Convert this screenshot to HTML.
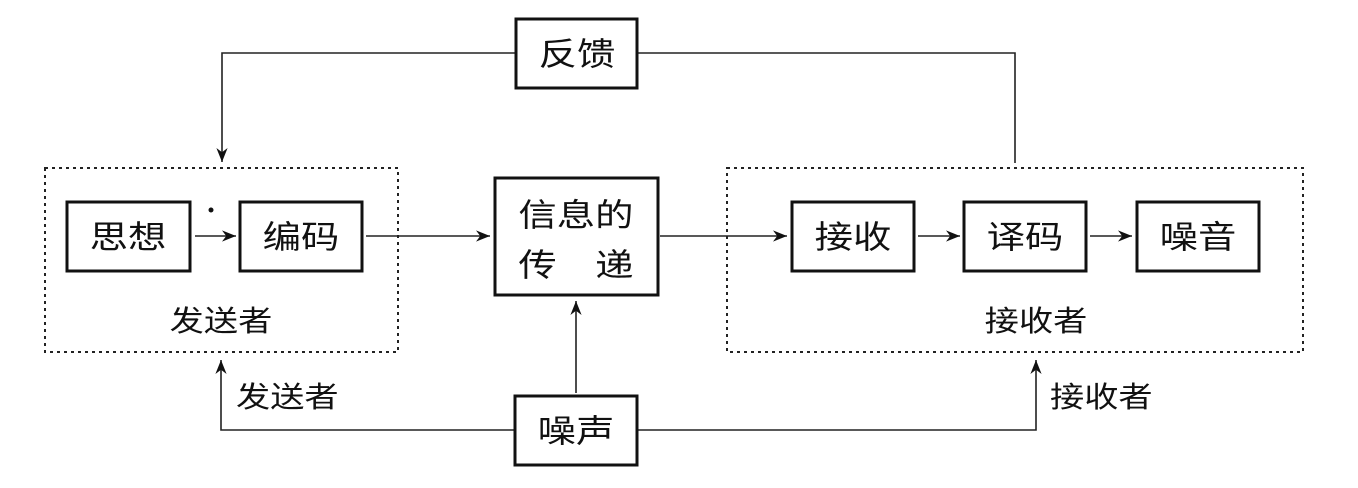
<!DOCTYPE html>
<html><head><meta charset="utf-8"><style>
html,body{margin:0;padding:0;background:#fff;}
svg text{font-family:"Liberation Sans","Noto Sans CJK SC",sans-serif;fill:#111;}
</style></head><body>
<svg width="1358" height="483" viewBox="0 0 1358 483" xmlns="http://www.w3.org/2000/svg">
<defs>
<marker id="a" viewBox="0 0 10 10" refX="10" refY="5" markerWidth="14" markerHeight="14" markerUnits="userSpaceOnUse" orient="auto">
<path d="M0,1 L10,5 L0,9 L3,5 z" fill="#111"/></marker>
</defs>
<g fill="none" stroke="#222" stroke-width="1.6">
<!-- feedback -->
<polyline points="516,53 222,53 222,162" marker-end="url(#a)"/>
<polyline points="637,53 1015,53 1015,163"/>
<!-- dashed boxes -->
<rect x="45" y="168" width="353" height="184" stroke-dasharray="3,4" stroke-width="2"/>
<rect x="727" y="168" width="576" height="184" stroke-dasharray="3,4" stroke-width="2"/>
<!-- arrows -->
<line x1="195" y1="236" x2="236" y2="236" marker-end="url(#a)"/>
<line x1="366" y1="236" x2="490" y2="236" marker-end="url(#a)"/>
<line x1="660" y1="236" x2="787" y2="236" marker-end="url(#a)"/>
<line x1="918" y1="236" x2="960" y2="236" marker-end="url(#a)"/>
<line x1="1090" y1="236" x2="1132" y2="236" marker-end="url(#a)"/>
<line x1="576" y1="393" x2="576" y2="301" marker-end="url(#a)"/>
<polyline points="515,430 221,430 221,360" marker-end="url(#a)"/>
<polyline points="637,430 1036,430 1036,360" marker-end="url(#a)"/>
</g>
<g fill="#fff" stroke="#111" stroke-width="3">
<rect x="516" y="19" width="121" height="69"/>
<rect x="67" y="202" width="123" height="69"/>
<rect x="240" y="202" width="122" height="69"/>
<rect x="495" y="178" width="163" height="117"/>
<rect x="792" y="202" width="122" height="69"/>
<rect x="964" y="202" width="122" height="69"/>
<rect x="1137" y="202" width="122" height="69"/>
<rect x="515" y="396" width="122" height="69"/>
</g>
<circle cx="211" cy="210" r="2.5" fill="#111"/>
<g font-size="32" text-anchor="middle">
<text transform="translate(577,65) scale(1.2,1)">反馈</text>
<text transform="translate(128,248) scale(1.2,1)">思想</text>
<text transform="translate(301,248) scale(1.2,1)">编码</text>
<text transform="translate(576,226) scale(1.2,1)">信息的</text>
<text transform="translate(576,276) scale(1.2,1)">传　递</text>
<text transform="translate(853,248) scale(1.2,1)">接收</text>
<text transform="translate(1025,248) scale(1.2,1)">译码</text>
<text transform="translate(1198,248) scale(1.2,1)">噪音</text>
<text transform="translate(576,442) scale(1.2,1)">噪声</text>
</g>
<g font-size="29">
<text text-anchor="middle" transform="translate(221,331) scale(1.18,1)">发送者</text>
<text text-anchor="middle" transform="translate(1036,331) scale(1.18,1)">接收者</text>
<text transform="translate(236,407) scale(1.18,1)">发送者</text>
<text transform="translate(1050,407) scale(1.18,1)">接收者</text>
</g>
</svg>
</body></html>
